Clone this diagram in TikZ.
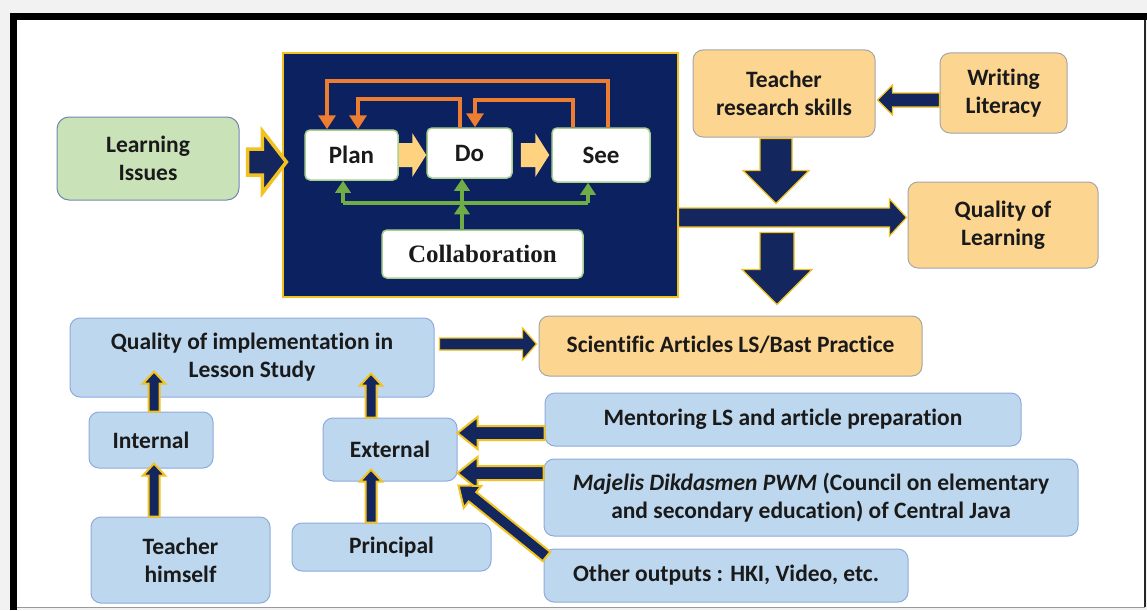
\documentclass[tikz,border=0pt]{standalone}
\usepackage{fontspec}
\setmainfont{Carlito}[Ligatures=CommonOff]
\newfontfamily\timesbf{Liberation Serif}
\usetikzlibrary{calc,arrows.meta}
\definecolor{navy}{HTML}{0C2160}
\definecolor{arrnavy}{HTML}{13265E}
\definecolor{gold}{HTML}{F2C320}
\definecolor{lblue}{HTML}{BDD7EE}
\definecolor{lbluedraw}{HTML}{8FAADC}
\definecolor{lorange}{HTML}{FCD591}
\definecolor{lgreen}{HTML}{C9E2B8}
\definecolor{ogline}{HTML}{ED7D31}
\definecolor{gline}{HTML}{70AD47}
\definecolor{ylarrow}{HTML}{FFD27F}
\definecolor{txt}{HTML}{1A1A1A}
\newcommand{\blkarrow}[6][]{%
  \coordinate (bah) at ($(#3)!#6!(#2)$);
  \path[#1] ($(#2)!#4!90:(#3)$) -- ($(bah)!#4!90:(#3)$) -- ($(bah)!#5!90:(#3)$) -- (#3)
    -- ($(bah)!#5!-90:(#3)$) -- ($(bah)!#4!-90:(#3)$) -- ($(#2)!#4!-90:(#3)$) -- cycle;}
\begin{document}
\begin{tikzpicture}[x=1pt,y=-1pt,
  every node/.style={text=txt, font=\fontsize{23.5}{28}\selectfont\bfseries, align=center, inner sep=2pt},
  bluebox/.style={fill=lblue, draw=lbluedraw, line width=1pt, rounded corners=10pt},
  orbox/.style={fill=lorange, draw=black!35, line width=1pt, rounded corners=10pt},
  grbox/.style={fill=lgreen, draw=lbluedraw!80!black, line width=1pt, rounded corners=12pt},
  whbox/.style={fill=white, draw=gline!60, line width=1.5pt, rounded corners=5pt, font=\fontsize{25}{28}\selectfont\bfseries},
  navyarr/.style={fill=arrnavy, draw=gold, line width=1.2pt, line join=miter},
  navyarrb/.style={fill=arrnavy, draw=gold, line width=2pt, line join=miter},
  ylarr/.style={fill=ylarrow, line join=miter},
  oarr/.style={draw=ogline, line width=4pt, -{Triangle[width=17pt,length=14pt]}},
  garr/.style={draw=gline, line width=4pt, -{Triangle[width=15pt,length=12pt]}},
  gline/.style={draw=gline, line width=4pt}]
\useasboundingbox (0,0) rectangle (1147,610);
% frame
\fill[black!5] (0,0) rectangle (1147,610);
\fill[white] (13,16) rectangle (1145,607);
\draw[black!40, line width=1pt] (16,607.5) -- (1145,607.5);
\draw[black!85, line width=1.5pt] (1145,20) -- (1145,607);
\draw[black, line width=7pt] (13,610) -- (13,16.5) -- (1147,16.5);
% panel
\node[fill=navy, draw=gold, line width=1.2pt, minimum width=395pt, minimum height=244pt, inner sep=0pt] (panel) at (480.5,175) {};
% boxes
\node[grbox, minimum width=182pt, minimum height=83pt] (li) at (148,158.5) {Learning\\Issues};
\node[whbox, minimum width=93pt, minimum height=50pt] (plan) at (351.5,155) {\raisebox{-3pt}{Plan}};
\node[whbox, minimum width=85pt, minimum height=50pt] (do) at (469.5,153) {Do};
\node[whbox, minimum width=98pt, minimum height=54pt] (see) at (601,155) {\raisebox{-2pt}{See}};
\node[whbox, minimum width=201pt, minimum height=48pt, font=\timesbf\fontsize{25}{28}\selectfont\bfseries] (collab) at (482.5,254) {\raisebox{-3pt}{Collaboration}};
\node[orbox, minimum width=182pt, minimum height=87pt] (trs) at (784,93.5) {Teacher\\research skills};
\node[orbox, minimum width=127pt, minimum height=80pt] (wl) at (1003.5,93) {Writing\\Literacy};
\node[orbox, minimum width=190pt, minimum height=86pt] (qol) at (1003,225) {Quality of\\Learning};
\node[orbox, minimum width=383pt, minimum height=60pt] (sci) at (730.5,346) {\raisebox{3pt}{Scientific Articles LS/Bast Practice}};
\node[bluebox, minimum width=364pt, minimum height=79pt] (qi) at (252,357.5) {Quality of implementation in\\Lesson Study};
\node[bluebox, minimum width=124pt, minimum height=56pt] (int) at (151,440) {Internal};
\node[bluebox, minimum width=134pt, minimum height=63pt] (ext) at (390,449.5) {External};
\node[bluebox, minimum width=179pt, minimum height=86pt] (th) at (180.5,560) {Teacher\\himself};
\node[bluebox, minimum width=199pt, minimum height=48pt] (pr) at (391.5,547) {Principal};
\node[bluebox, minimum width=476pt, minimum height=53pt] (men) at (783,419.5) {Mentoring LS and article preparation};
\node[bluebox, minimum width=534pt, minimum height=77pt] (maj) at (811,497.5) {\itshape Majelis Dikdasmen PWM\upshape{} (Council on elementary\\and secondary education) of Central Java};
\node[bluebox, minimum width=364pt, minimum height=53pt] (oth) at (726,575.5) {Other outputs : HKI, Video, etc.};
% Learning issues -> panel
\coordinate (liA) at ($(li.east)+(8,3.5)$);
\coordinate (liB) at ($(panel.west)+(4,-13)$);
\blkarrow[fill=arrnavy, draw=gold, line width=3.5pt, line join=miter]{liA}{liB}{13pt}{31pt}{24pt}
% yellow arrows in panel
\coordinate (pdA) at ($(plan.east)+(0,0)$);
\coordinate (pdB) at ($(do.west)+(0,2)$);
\blkarrow[ylarr]{pdA}{pdB}{12pt}{22pt}{14pt}
\coordinate (dsA) at ($(do.east)+(8,2)$);
\coordinate (dsB) at ($(see.west)+(-2,0)$);
\blkarrow[ylarr]{dsA}{dsB}{12pt}{22pt}{14pt}
% orange feedback arrows
\draw[oarr] ($(see.north)+(7,0)$) -- ++(0,-46) -| ($(plan.north)+(-24.5,0)$);
\draw[oarr] ($(do.north)+(-9.5,0)$) -- ++(0,-28) -| ($(plan.north)+(6.5,0)$);
\draw[oarr] ($(see.north)+(-28,0)$) -- ++(0,-27) -| ($(do.north)+(5.5,0)$);
% green collaboration arrows
\coordinate (g1) at ($(plan.south)+(-8.5,22)$);
\coordinate (g3) at ($(see.south)+(-13,20)$);
\draw[gline] (g1) -- (g3);
\draw[garr] (g1) -- ($(plan.south)+(-8.5,0)$);
\draw[garr] (g1 -| collab.north) ++(-20.5,0) -- ($(do.south)+(-7.5,0)$);
\draw[garr] (g3) -- ($(see.south)+(-13,0)$);
\draw[garr] ($(collab.north)+(-20.5,0)$) -- ++(0,-27);
% top right arrows
\coordinate (wlA) at ($(wl.west)+(0,7)$);
\coordinate (wlB) at ($(trs.east)+(2,6.5)$);
\blkarrow[navyarr]{wlA}{wlB}{7pt}{15pt}{15pt}
\coordinate (tdA) at ($(trs.south)+(-8,1)$);
\coordinate (tdB) at ($(trs.south)+(-8,66)$);
\blkarrow[navyarr]{tdA}{tdB}{16pt}{33pt}{33pt}
\coordinate (pqA) at ($(panel.east)+(0,42.5)$);
\coordinate (pqB) at ($(qol.west)+(-1,-7.5)$);
\blkarrow[navyarr]{pqA}{pqB}{9.5pt}{18.5pt}{17pt}
\coordinate (sdB) at ($(sci.north)+(46.5,-11)$);
\coordinate (sdA) at ($(sdB)+(0,-72)$);
\blkarrow[navyarr]{sdA}{sdB}{17pt}{35pt}{35pt}
% lower arrows
\coordinate (qsA) at ($(qi.east)+(5,-13.5)$);
\coordinate (qsB) at ($(sci.west)+(-2,-2)$);
\blkarrow[navyarr]{qsA}{qsB}{6pt}{16pt}{14pt}
\coordinate (iqA) at ($(int.north)+(3,0)$);
\coordinate (iqB) at ($(int.north)+(3,-40)$);
\blkarrow[navyarrb]{iqA}{iqB}{5.5pt}{11pt}{12pt}
\coordinate (tiA) at ($(th.north)+(-26.5,0)$);
\coordinate (tiB) at ($(int.south)+(3,-5)$);
\blkarrow[navyarrb]{tiA}{tiB}{5.5pt}{11pt}{12pt}
\coordinate (eqA) at ($(ext.north)+(-19,0)$);
\coordinate (eqB) at ($(ext.north)+(-19,-44)$);
\blkarrow[navyarrb]{eqA}{eqB}{5.5pt}{11pt}{12pt}
\coordinate (peA) at ($(pr.north)+(-20.5,0)$);
\coordinate (peB) at ($(ext.south)+(-19,-12)$);
\blkarrow[navyarrb]{peA}{peB}{5.5pt}{11pt}{12pt}
\coordinate (meA) at ($(men.west)+(0,13.5)$);
\coordinate (meB) at ($(ext.east)+(0,-16.5)$);
\blkarrow[navyarrb]{meA}{meB}{7pt}{16pt}{20pt}
\coordinate (maA) at ($(maj.west)+(0,-24.5)$);
\coordinate (maB) at ($(ext.east)+(0,23.5)$);
\blkarrow[navyarrb]{maA}{maB}{7pt}{16pt}{20pt}
\coordinate (oeA) at ($(oth.north west)+(3,8)$);
\coordinate (oeB) at ($(ext.south east)+(1,4)$);
\blkarrow[navyarrb]{oeA}{oeB}{6pt}{14pt}{18pt}
\end{tikzpicture}
\end{document}
